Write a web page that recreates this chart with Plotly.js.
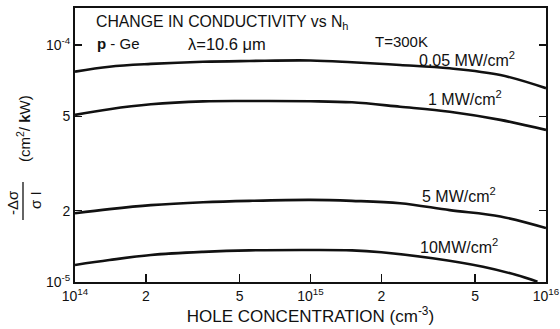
<!DOCTYPE html>
<html>
<head>
<meta charset="utf-8">
<script src="https://cdn.plot.ly/plotly-3.0.1.min.js"></script>
<style>html,body{margin:0;padding:0;background:#fff;}#chart{width:560px;height:329px;}</style>
</head>
<body>
<div id="chart"></div>
<script>
// Hole concentration (cm^-3)
const xA = [1e14, 1.4e14, 2.1e14, 3.5e14, 5.5e14, 1e15, 1.5e15, 2.4e15, 3.9e15, 6.4e15, 1e16];
const xD = [1e14, 1.4e14, 2.1e14, 3.5e14, 5.5e14, 1e15, 1.5e15, 2e15, 3.3e15, 5.4e15, 7.5e15, 9.2e15];
// -Δσ/σI (cm^2/kW)
const y005 = [7.72e-5, 8.10e-5, 8.32e-5, 8.50e-5, 8.56e-5, 8.60e-5, 8.45e-5, 8.23e-5, 7.97e-5, 7.47e-5, 6.57e-5];
const y1   = [5.07e-5, 5.36e-5, 5.62e-5, 5.78e-5, 5.80e-5, 5.79e-5, 5.73e-5, 5.49e-5, 5.23e-5, 4.83e-5, 4.38e-5];
const y5   = [1.95e-5, 2.03e-5, 2.11e-5, 2.17e-5, 2.20e-5, 2.22e-5, 2.20e-5, 2.15e-5, 2.01e-5, 1.89e-5, 1.69e-5];
const y10  = [1.18e-5, 1.238e-5, 1.30e-5, 1.34e-5, 1.36e-5, 1.365e-5, 1.36e-5, 1.335e-5, 1.26e-5, 1.16e-5, 1.07e-5, 1.003e-5];
const seriesLabels = ['0.05 MW/cm<sup>2</sup>', '1 MW/cm<sup>2</sup>', '5 MW/cm<sup>2</sup>', '10MW/cm<sup>2</sup>'];

const xTickVals = [1e14, 2e14, 5e14, 1e15, 2e15, 5e15, 1e16];
const xTickText = ['10<sup>14</sup>', '2', '5', '10<sup>15</sup>', '2', '5', '10<sup>16</sup>'];
const yTickVals = [1e-5, 2e-5, 5e-5, 1e-4];
const yTickText = ['10<sup>-5</sup>', '2', '5', '10<sup>-4</sup>'];

const FONT = 'Liberation Sans, Arial, sans-serif';
const lineStyle = {color: '#111', width: 2.6, shape: 'spline', smoothing: 1};
const traces = [
  {x: xA, y: y005},
  {x: xA, y: y1},
  {x: xA, y: y5},
  {x: xD, y: y10}
].map(t => Object.assign(t, {type: 'scatter', mode: 'lines', line: lineStyle, hoverinfo: 'skip'}));

const ann = (text, x, y, size, extra) => Object.assign({
  text: text, xref: 'paper', yref: 'paper', x: x, y: y, showarrow: false,
  font: {family: FONT, size: size, color: '#111'}, xanchor: 'left', yanchor: 'middle'
}, extra || {});

// paper coords: plot area x 75..546, y 8..282
const px = v => (v - 75) / 471;
const py = v => (282 - v) / 274;

const layout = {
  width: 560, height: 329,
  margin: {l: 75, r: 14, t: 8, b: 47},
  paper_bgcolor: '#fff', plot_bgcolor: '#fff',
  showlegend: false,
  font: {family: FONT, color: '#111'},
  xaxis: {
    type: 'log', range: [14, 16],
    tickvals: xTickVals, ticktext: xTickText,
    ticks: 'inside', ticklen: 8, tickwidth: 1.5, tickcolor: '#111',
    showline: true, linewidth: 2, linecolor: '#111', mirror: true,
    showgrid: false, zeroline: false,
    tickfont: {family: FONT, size: 14, color: '#111'},
    title: {text: 'HOLE CONCENTRATION (cm<sup>-3</sup>)', font: {family: FONT, size: 17, color: '#111'}, standoff: 6}
  },
  yaxis: {
    type: 'log', range: [-5, -3.844],
    tickvals: yTickVals, ticktext: yTickText,
    ticks: 'inside', ticklen: 7, tickwidth: 1.5, tickcolor: '#111',
    showline: true, linewidth: 2, linecolor: '#111', mirror: 'ticks',
    showgrid: false, zeroline: false,
    tickfont: {family: FONT, size: 14, color: '#111'}
  },
  annotations: [
    ann('CHANGE IN CONDUCTIVITY vs N<sub>h</sub>', px(94), py(22), 15.8),
    ann('<b>p</b> - Ge', px(95), py(44), 15),
    ann('λ=10.6 μm', px(186), py(44), 16.5),
    ann('T=300K', px(373), py(42), 15),
    ann(seriesLabels[0], px(417), py(59), 16),
    ann(seriesLabels[1], px(426), py(98), 16),
    ann(seriesLabels[2], px(420), py(195), 16),
    ann(seriesLabels[3], px(418), py(246), 16),
    ann('(cm<sup>2</sup>/ <b>k</b>W)', -52/471, py(129), 15, {textangle: -90, xanchor: 'center'}),
    ann('-Δσ', -63/471, py(203), 15, {textangle: -90, xanchor: 'center'}),
    ann('σ I', -40/471, py(200), 15, {textangle: -90, xanchor: 'center'})
  ],
  shapes: [
    {type: 'line', xref: 'paper', yref: 'paper', x0: -52/471, x1: -52/471, y0: py(182), y1: py(220), line: {color: '#111', width: 1.3}}
  ]
};

Plotly.newPlot('chart', traces, layout, {staticPlot: true, displayModeBar: false});
</script>
</body>
</html>
